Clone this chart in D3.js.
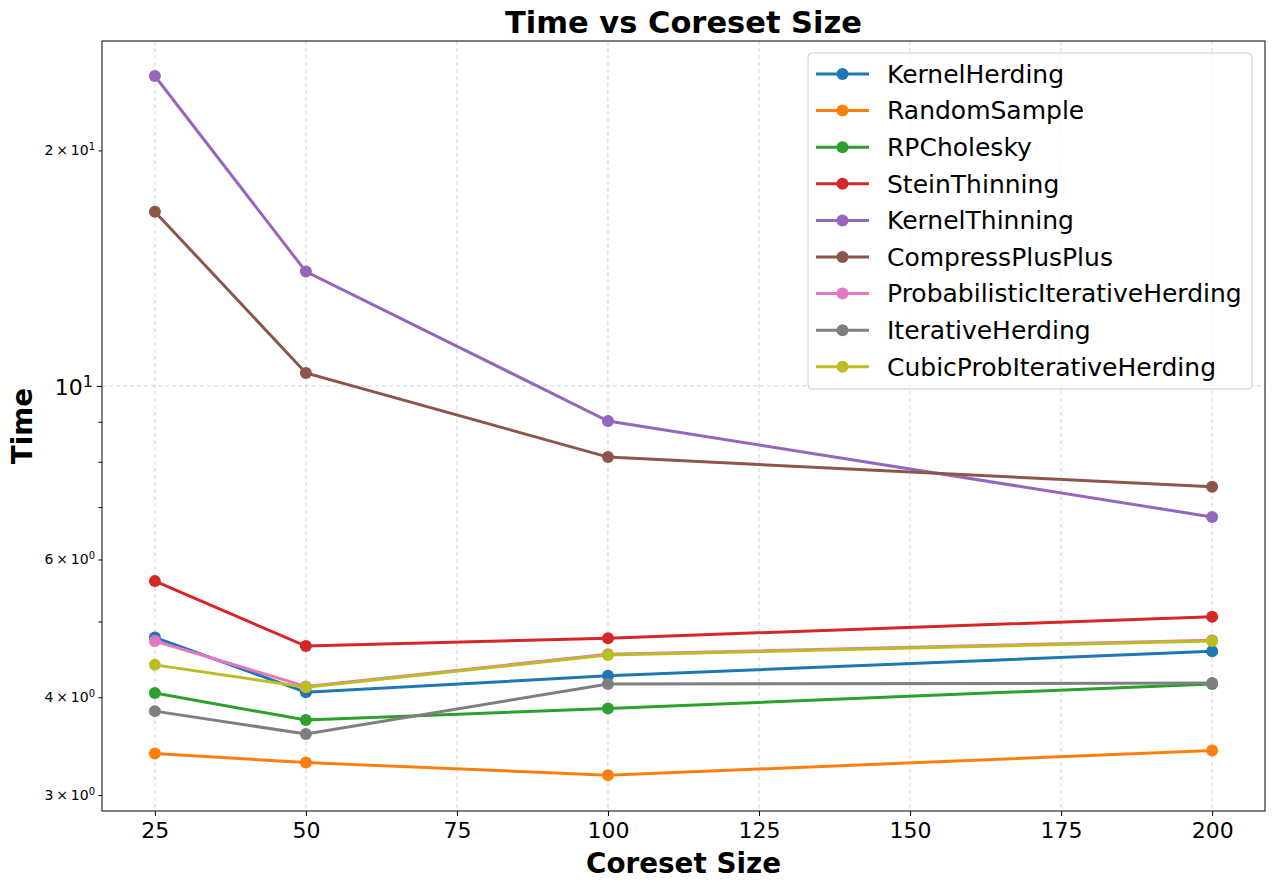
<!DOCTYPE html>
<html>
<head>
<meta charset="utf-8">
<script src="https://cdn.jsdelivr.net/npm/d3@7"></script>
<style>
  body { margin: 0; background: #fff; }
  svg text { font-family: "DejaVu Sans", sans-serif; }
</style>
</head>
<body>
<div class="canvas"></div>
<script>
const coresetSizes = [25, 50, 100, 200];
const methods = ['KernelHerding', 'RandomSample', 'RPCholesky', 'SteinThinning', 'KernelThinning',
  'CompressPlusPlus', 'ProbabilisticIterativeHerding', 'IterativeHerding', 'CubicProbIterativeHerding'];
const colors = ['#1f77b4', '#ff7f0e', '#2ca02c', '#d62728', '#9467bd', '#8c564b', '#e377c2', '#7f7f7f', '#bcbd22'];

const kernelHerding = [4.77, 4.06, 4.26, 4.58];
const randomSample = [3.39, 3.30, 3.18, 3.42];
const rpCholesky = [4.05, 3.74, 3.87, 4.16];
const steinThinning = [5.63, 4.65, 4.76, 5.07];
const kernelThinning = [24.9, 14.0, 9.02, 6.80];
const compressPlusPlus = [16.7, 10.39, 8.11, 7.43];
const probIterHerding = [4.72, 4.13, 4.54, 4.73];
const iterHerding = [3.84, 3.59, 4.16, 4.17];
const cubicProbIterHerding = [4.40, 4.12, 4.53, 4.72];

const seriesValues = [kernelHerding, randomSample, rpCholesky, steinThinning, kernelThinning,
  compressPlusPlus, probIterHerding, iterHerding, cubicProbIterHerding];

const xTicks = [25, 50, 75, 100, 125, 150, 175, 200];
const yMinorLabelled = [3, 4, 6, 20];

const margin = { top: 41, right: 9, bottom: 77, left: 102 };
const width = 1274, height = 888;
const graphWidth = width - margin.left - margin.right;
const graphHeight = height - margin.top - margin.bottom;

const svg = d3.select('.canvas')
  .append('svg')
  .attr('width', width)
  .attr('height', height);

const graph = svg.append('g')
  .attr('transform', `translate(${margin.left}, ${margin.top})`);

const x = d3.scaleLinear().domain([16.25, 208.75]).range([0, graphWidth]);
const y = d3.scaleLog().domain([2.862, 27.6]).range([graphHeight, 0]);

// grid lines
graph.append('g')
  .selectAll('line')
  .data(xTicks)
  .enter().append('line')
    .attr('x1', d => x(d)).attr('x2', d => x(d))
    .attr('y1', 0).attr('y2', graphHeight)
    .attr('stroke', '#b0b0b0')
    .attr('stroke-width', 0.8)
    .attr('stroke-dasharray', '4,3')
    .attr('opacity', 0.7);

graph.append('line')
  .attr('x1', 0).attr('x2', graphWidth)
  .attr('y1', y(10)).attr('y2', y(10))
  .attr('stroke', '#b0b0b0')
  .attr('stroke-width', 0.8)
  .attr('stroke-dasharray', '4,3')
  .attr('opacity', 0.7);

// axes
const xAxis = d3.axisBottom(x).tickValues(xTicks).tickSize(5).tickPadding(6);
const xAxisGroup = graph.append('g')
  .attr('transform', `translate(0, ${graphHeight})`)
  .call(xAxis);
xAxisGroup.selectAll('text').style('font-size', '22px').attr('fill', '#000');

const minorTicks = [3, 4, 5, 6, 7, 8, 9, 20];
const yMinorAxis = d3.axisLeft(y).tickValues(minorTicks).tickSize(3.5).tickPadding(5)
  .tickFormat(d => '');
graph.append('g').call(yMinorAxis);

// minor labels like 2×10^1
minorTicks.filter(d => yMinorLabelled.includes(d)).forEach(d => {
  const mant = d >= 10 ? d / 10 : d;
  const exp = d >= 10 ? 1 : 0;
  const t = graph.append('text')
    .attr('x', -7)
    .attr('y', y(d))
    .attr('dy', '0.35em')
    .attr('text-anchor', 'end')
    .style('font-size', '14px')
    .attr('fill', '#000');
  t.append('tspan').text(`${mant}\u2009\u00d7\u200910`);
  t.append('tspan').attr('dy', '-0.5em').style('font-size', '10px').text(exp);
});

const yMajorAxis = d3.axisLeft(y).tickValues([10]).tickSize(5).tickPadding(6)
  .tickFormat(d => '');
graph.append('g').call(yMajorAxis);
const majorLabel = graph.append('text')
  .attr('x', -9).attr('y', y(10)).attr('dy', '0.4em')
  .attr('text-anchor', 'end')
  .style('font-size', '22px');
majorLabel.append('tspan').text('10');
majorLabel.append('tspan').attr('dy', '-0.5em').style('font-size', '16px').text('1');

graph.selectAll('.domain').remove();
graph.append('rect')
  .attr('width', graphWidth).attr('height', graphHeight)
  .attr('fill', 'none').attr('stroke', '#000').attr('stroke-width', 1);

// lines
const line = d3.line()
  .x((d, i) => x(coresetSizes[i]))
  .y(d => y(d));

seriesValues.forEach((vals, k) => {
  graph.append('path')
    .datum(vals)
    .attr('fill', 'none')
    .attr('stroke', colors[k])
    .attr('stroke-width', 3)
    .attr('d', line);
  graph.append('g')
    .selectAll('circle')
    .data(vals)
    .enter().append('circle')
      .attr('cx', (d, i) => x(coresetSizes[i]))
      .attr('cy', d => y(d))
      .attr('r', 6)
      .attr('fill', colors[k]);
});

// title and axis labels
svg.append('text')
  .attr('x', margin.left + graphWidth / 2)
  .attr('y', 33)
  .attr('text-anchor', 'middle')
  .style('font-size', '30.5px')
  .style('font-weight', 'bold')
  .text('Time vs Coreset Size');

svg.append('text')
  .attr('x', margin.left + graphWidth / 2)
  .attr('y', 873)
  .attr('text-anchor', 'middle')
  .style('font-size', '27.8px')
  .style('font-weight', 'bold')
  .text('Coreset Size');

svg.append('text')
  .attr('transform', `translate(32, ${margin.top + graphHeight / 2}) rotate(-90)`)
  .attr('text-anchor', 'middle')
  .style('font-size', '27.8px')
  .style('font-weight', 'bold')
  .text('Time');

// legend
const legend = svg.append('g').attr('transform', 'translate(808, 53)');
legend.append('rect')
  .attr('width', 444).attr('height', 336)
  .attr('rx', 4)
  .attr('fill', '#fff').attr('fill-opacity', 0.8)
  .attr('stroke', '#ccc');

methods.forEach((m, k) => {
  const ly = 21 + k * 36.6;
  legend.append('line')
    .attr('x1', 8).attr('x2', 61)
    .attr('y1', ly).attr('y2', ly)
    .attr('stroke', colors[k]).attr('stroke-width', 3);
  legend.append('circle')
    .attr('cx', 34.5).attr('cy', ly).attr('r', 6)
    .attr('fill', colors[k]);
  legend.append('text')
    .attr('x', 79).attr('y', ly).attr('dy', '0.35em')
    .style('font-size', '25px')
    .text(m);
});
</script>
</body>
</html>
